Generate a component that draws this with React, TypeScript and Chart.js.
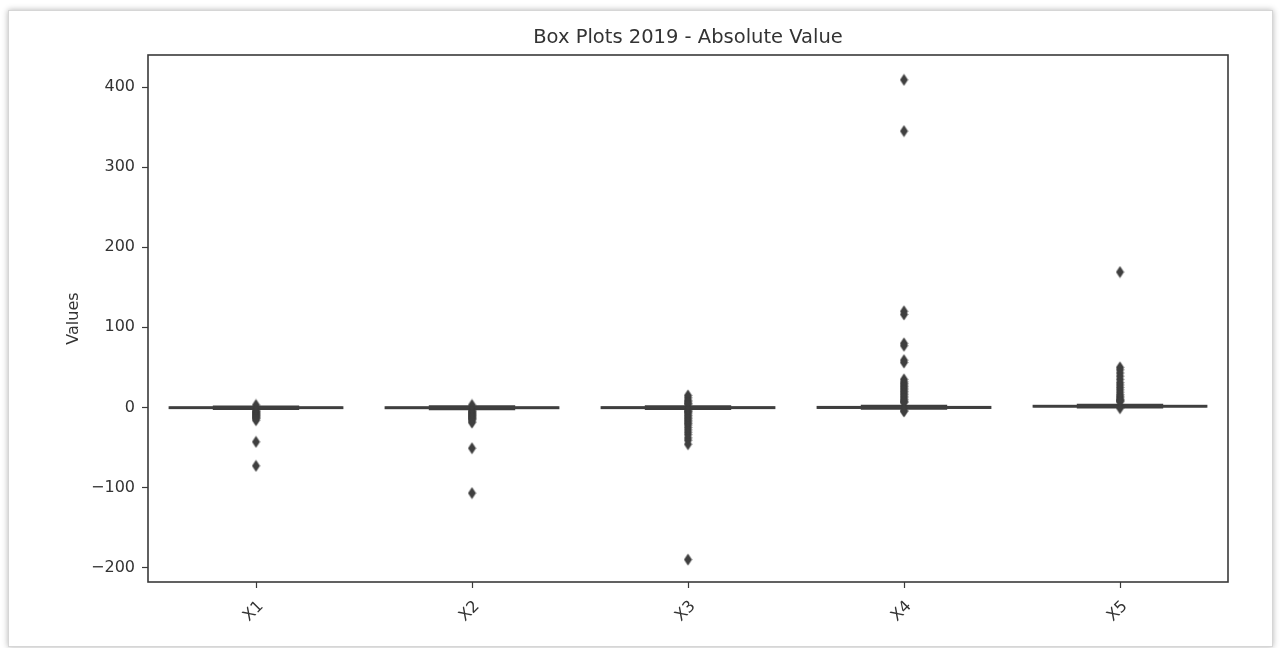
import React, { useEffect, useRef } from "react";
import { Chart, registerables } from "chart.js";

Chart.register(...registerables);

const categories = ["X1", "X2", "X3", "X4", "X5"];
const whiskerLow = [-2.0, -2.2, -2.0, -1.8, -0.2];
const q1 = [-0.9, -1.0, -0.9, -0.7, 0.9];
const median = [-0.4, -0.5, -0.3, 0.0, 1.4];
const q3 = [0.2, 0.2, 0.3, 0.6, 2.0];
const whiskerHigh = [1.2, 1.3, 1.5, 2.0, 3.2];

const outliersX1 = [3, -4, -5, -6, -7, -8, -9, -10, -11, -12, -13, -14, -16, -43, -73];
const outliersX2 = [3, -4, -5, -6, -7, -8, -9, -10, -11, -12, -13, -14, -15, -17, -19, -51, -107];
const outliersX3 = [15, 12, 9, 7, 5, 4, -4, -5, -6, -8, -10, -12, -14, -16, -18, -20, -22, -25, -28, -31, -34, -38, -41, -46, -190];
const outliersX4 = [409, 345, 120, 116, 80, 77, 59, 56, 35, 32, 30, 28, 26, 24, 22, 20, 18, 16, 14, 12, 10, 8, 7, 6, -4, -5];
const outliersX5 = [169, 50, 47, 43, 39, 35, 31, 28, 25, 22, 19, 16, 14, 12, 10, 9, 8, 7, -1];
const outliers = [outliersX1, outliersX2, outliersX3, outliersX4, outliersX5];

const yTicks = [-200, -100, 0, 100, 200, 300, 400];
const boxColors = ["#3274a1", "#e1812c", "#3a923a", "#c03d3e", "#9372b2"];
const edge = "#3f3f3f";

function makeDiamond(): HTMLCanvasElement {
  const c = document.createElement("canvas");
  c.width = 9;
  c.height = 13;
  const g = c.getContext("2d")!;
  g.fillStyle = edge;
  g.beginPath();
  g.moveTo(4.5, 0.5);
  g.lineTo(8.5, 6.5);
  g.lineTo(4.5, 12.5);
  g.lineTo(0.5, 6.5);
  g.closePath();
  g.fill();
  return c;
}

const boxPlugin = {
  id: "boxes",
  beforeDatasetsDraw(chart: any) {
    const { ctx, scales } = chart;
    const x = scales.x;
    const y = scales.y;
    const band = x.getPixelForValue(1) - x.getPixelForValue(0);
    ctx.save();
    ctx.strokeStyle = edge;
    ctx.lineWidth = 2;
    categories.forEach((_c, i) => {
      const cx = x.getPixelForValue(i);
      const half = band * 0.4;
      const capHalf = half * 0.5;
      const yq1 = y.getPixelForValue(q1[i]);
      const yq3 = y.getPixelForValue(q3[i]);
      const ym = y.getPixelForValue(median[i]);
      const ylo = y.getPixelForValue(whiskerLow[i]);
      const yhi = y.getPixelForValue(whiskerHigh[i]);
      ctx.beginPath();
      ctx.moveTo(cx, yq1);
      ctx.lineTo(cx, ylo);
      ctx.moveTo(cx, yq3);
      ctx.lineTo(cx, yhi);
      ctx.moveTo(cx - capHalf, ylo);
      ctx.lineTo(cx + capHalf, ylo);
      ctx.moveTo(cx - capHalf, yhi);
      ctx.lineTo(cx + capHalf, yhi);
      ctx.stroke();
      ctx.fillStyle = boxColors[i];
      ctx.fillRect(cx - half, yq3, half * 2, yq1 - yq3);
      ctx.strokeRect(cx - half, yq3, half * 2, yq1 - yq3);
      ctx.beginPath();
      ctx.moveTo(cx - half, ym);
      ctx.lineTo(cx + half, ym);
      ctx.stroke();
    });
    ctx.restore();
  },
  afterDatasetsDraw(chart: any) {
    const { ctx, chartArea } = chart;
    ctx.save();
    ctx.strokeStyle = "#3a3a3a";
    ctx.lineWidth = 1.6;
    ctx.strokeRect(chartArea.left, chartArea.top, chartArea.right - chartArea.left, chartArea.bottom - chartArea.top);
    ctx.restore();
  },
};

export default function App() {
  const ref = useRef<HTMLCanvasElement | null>(null);

  useEffect(() => {
    if (!ref.current) return;
    const diamond = makeDiamond();
    const points = categories.flatMap((c, i) => outliers[i].map((v) => ({ x: c, y: v })));
    const font = "'DejaVu Sans', sans-serif";
    const chart = new Chart(ref.current, {
      type: "scatter",
      data: {
        labels: categories,
        datasets: [
          {
            data: points as any,
            pointStyle: diamond as any,
            pointRadius: 5,
            pointHoverRadius: 5,
            backgroundColor: edge,
            borderColor: edge,
          },
        ],
      },
      plugins: [boxPlugin],
      options: {
        responsive: false,
        animation: false,
        events: [],
        layout: { padding: { left: 50, right: 53, top: 26, bottom: 0 } },
        plugins: {
          legend: { display: false },
          tooltip: { enabled: false },
          title: {
            display: true,
            text: "Box Plots 2019 - Absolute Value",
            fullSize: false,
            color: "#333",
            font: { family: font, size: 19.5, weight: "normal", lineHeight: 1.2 },
            padding: { top: 0, bottom: 5.6 },
          },
        },
        scales: {
          x: {
            type: "category",
            labels: categories,
            offset: true,
            grid: { drawOnChartArea: false, drawTicks: true, tickLength: 6, color: "#3a3a3a", tickWidth: 1.2 },
            border: { display: false },
            ticks: {
              color: "#333",
              font: { family: font, size: 16 },
              minRotation: 45,
              maxRotation: 45,
              padding: 9,
              labelOffset: 5,
            },
            afterFit(scale: any) {
              scale.height = 66;
            },
          },
          y: {
            type: "linear",
            min: -218,
            max: 440,
            grid: { drawOnChartArea: false, drawTicks: true, tickLength: 6, color: "#3a3a3a", tickWidth: 1.2 },
            border: { display: false },
            title: {
              display: true,
              text: "Values",
              color: "#333",
              font: { family: font, size: 16, lineHeight: 1.2 },
              padding: { top: 14, bottom: 0 },
            },
            ticks: {
              color: "#333",
              font: { family: font, size: 16 },
              padding: 7,
              callback: (v: any) => (Number(v) < 0 ? "\u2212" + Math.abs(Number(v)) : String(v)),
            },
            afterBuildTicks(scale: any) {
              scale.ticks = yTicks.map((v) => ({ value: v }));
            },
            afterFit(scale: any) {
              scale.width = 98;
            },
          },
        },
      },
    });
    return () => chart.destroy();
  }, []);

  return (
    <div style={{ position: "fixed", left: 0, top: 0, width: 1281, height: 648, background: "#fff" }}>
      <div
        style={{
          position: "absolute",
          left: 8,
          top: 10,
          width: 1263,
          height: 635,
          border: "1px solid #d6d6d6",
          boxShadow: "0 0 6px rgba(0,0,0,0.3)",
          background: "#fff",
        }}
      />
      <canvas ref={ref} width={1281} height={648} style={{ position: "absolute", left: 0, top: 0 }} />
    </div>
  );
}
